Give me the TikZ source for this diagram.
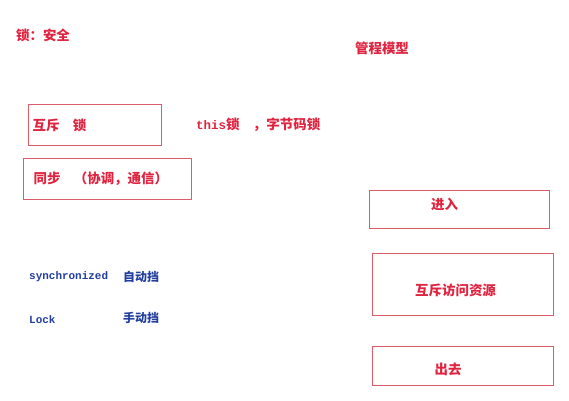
\documentclass[tikz,border=0pt]{standalone}
\usepackage{fontspec}
\setmainfont{Liberation Serif}
\setmonofont{Liberation Mono}
\newfontfamily\cjk{Noto Sans CJK SC}
\definecolor{lockred}{RGB}{224,36,64}
\definecolor{boxred}{RGB}{222,92,104}
\definecolor{gearblue}{RGB}{34,62,158}

\begin{document}
\begin{tikzpicture}[x=1bp,y=-1bp,
  redtext/.style={text=lockred,font=\cjk\bfseries\fontsize{13.5}{15}\selectfont,inner sep=0pt},
  bluetext/.style={text=gearblue,font=\cjk\bfseries\fontsize{12}{14}\selectfont,inner sep=0pt,anchor=west},
  redbox/.style={draw=boxred,line width=1.1bp,rectangle,inner ysep=0pt,
    text=lockred,font=\cjk\bfseries\fontsize{13.5}{15}\selectfont}]
  \useasboundingbox (0,0) rectangle (569,400);

  % headings
  \node[redtext] (lock) at (43,35) {锁：安全};
  \node[redtext] (monitor) at (382,48) {管程模型};

  % left side
  \node[redbox,anchor=north west,text width=125bp,inner xsep=4bp,minimum height=41bp,align=left] (mutex) at (28,104) {互斥\quad 锁};
  \node[redtext,anchor=west] (kinds) at (196,125) {{\ttfamily\bfseries\fontsize{12.5}{15}\selectfont this}锁\quad ，字节码锁};
  \node[redbox,anchor=north west,text width=148bp,inner xsep=10bp,minimum height=41bp,align=left] (sync) at (23,158) {同步\quad （协调，通信）};

  \node[bluetext,font=\ttfamily\bfseries\fontsize{11}{13}\selectfont] (syncword) at (29,277) {synchronized};
  \node[bluetext] (auto) at (123,277) {自动挡};
  \node[bluetext,font=\ttfamily\bfseries\fontsize{11}{13}\selectfont] (lockword) at (29,320) {Lock};
  \node[bluetext] (manual) at (123,318) {手动挡};

  % right side (text sits a little off centre)
  \node[redbox,anchor=north west,minimum width=180bp,minimum height=38bp,text height=11.6bp,text depth=11.6bp] (enter) at (369,190) {\kern-30bp 进入};
  \node[redbox,anchor=north west,minimum width=181bp,minimum height=62bp,text height=24bp,text depth=1.6bp] (access) at (372,253) {\kern-15bp 互斥访问资源};
  \node[redbox,anchor=north west,minimum width=181bp,minimum height=39bp,text height=18.6bp,text depth=1.6bp] (leave) at (372,346) {\kern-30bp 出去};
\end{tikzpicture}
\end{document}
